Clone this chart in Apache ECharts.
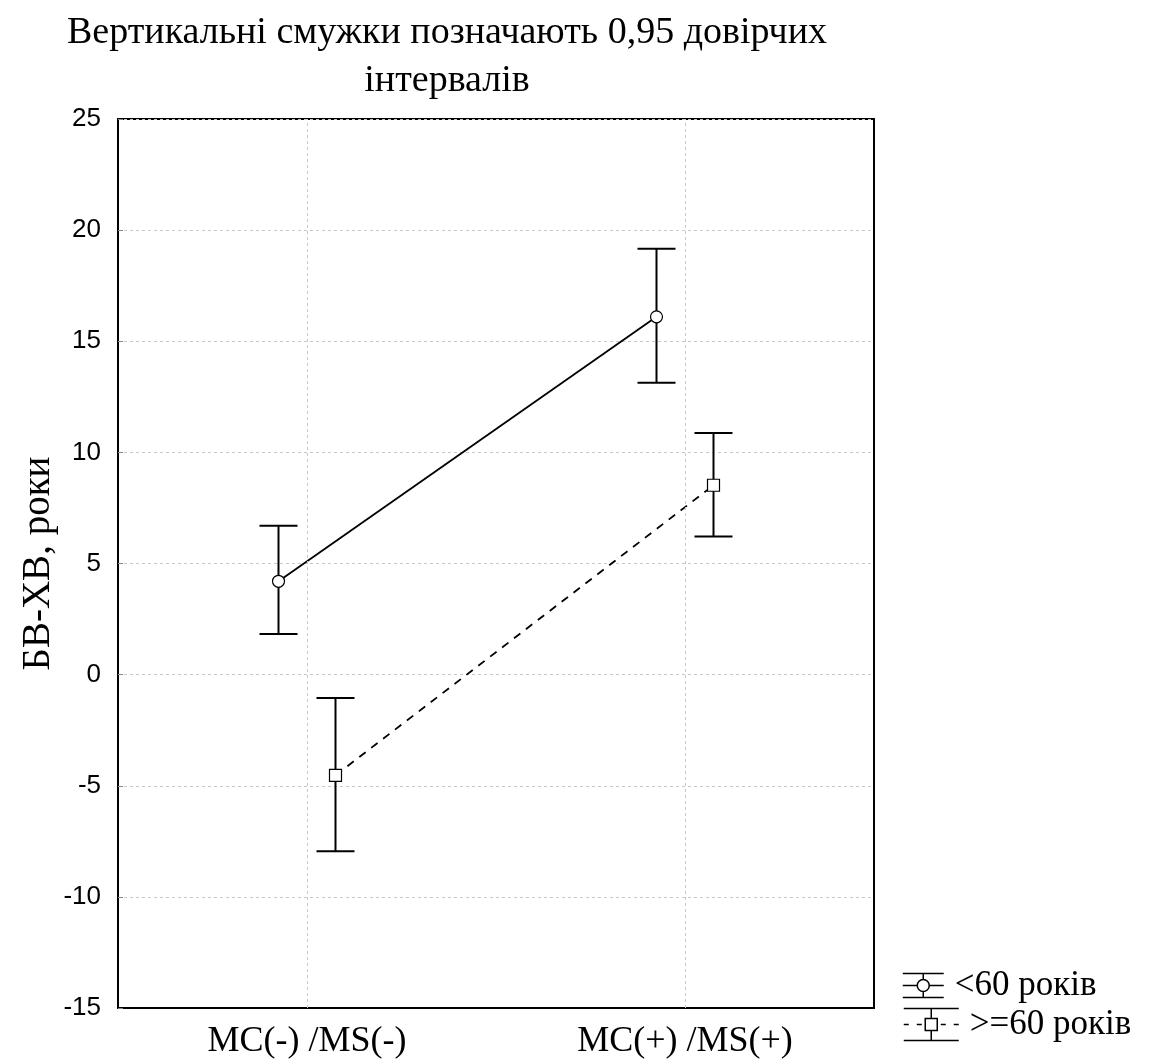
<!DOCTYPE html>
<html>
<head>
<meta charset="utf-8">
<script src="https://cdn.jsdelivr.net/npm/echarts@6/dist/echarts.min.js"></script>
<style>
html,body{margin:0;padding:0;background:#fff;}
#chart{width:1149px;height:1060px;}
</style>
</head>
<body>
<div id="chart"></div>
<script>
var groups = ['MC(-) /MS(-)', 'MC(+) /MS(+)'];
var yTicks = [-15, -10, -5, 0, 5, 10, 15, 20, 25];
var under60Name = '<60 років';
var under60Mean = [4.2, 16.1];
var under60Low = [1.83, 13.13];
var under60High = [6.7, 19.16];
var over60Name = '>=60 років';
var over60Mean = [-4.53, 8.52];
var over60Low = [-7.95, 6.21];
var over60High = [-1.05, 10.87];

var serif = '"Liberation Serif", "Times New Roman", serif';
var sans = '"Liberation Sans", Arial, sans-serif';

function toItems(mean, low, high) {
  return groups.map(function (g, i) { return [i, mean[i], low[i], high[i]]; });
}

function barRender(offset, shape) {
  return function (params, api) {
    var c = api.coord([api.value(0), api.value(1)]);
    var lo = api.coord([api.value(0), api.value(2)]);
    var hi = api.coord([api.value(0), api.value(3)]);
    var x = c[0] + offset;
    var st = { stroke: '#000', lineWidth: 2 };
    var children = [
      { type: 'line', shape: { x1: x, y1: hi[1], x2: x, y2: lo[1] }, style: st },
      { type: 'line', shape: { x1: x - 19, y1: hi[1], x2: x + 19, y2: hi[1] }, style: st },
      { type: 'line', shape: { x1: x - 19, y1: lo[1], x2: x + 19, y2: lo[1] }, style: st }
    ];
    if (shape === 'circle') {
      children.push({ type: 'circle', shape: { cx: x, cy: c[1], r: 6 }, style: { fill: '#fff', stroke: '#000', lineWidth: 1.2 } });
    } else {
      children.push({ type: 'rect', shape: { x: x - 6, y: c[1] - 6, width: 12, height: 12 }, style: { fill: '#fff', stroke: '#000', lineWidth: 1.2 } });
    }
    return { type: 'group', children: children };
  };
}

function lineRender(offset, dashed) {
  return function (params, api) {
    var p0 = api.coord([0, api.value(0)]);
    var p1 = api.coord([1, api.value(1)]);
    return {
      type: 'line',
      shape: { x1: p0[0] + offset, y1: p0[1], x2: p1[0] + offset, y2: p1[1] },
      style: { stroke: '#000', lineWidth: 1.8, lineDash: dashed ? [8, 7] : null }
    };
  };
}

var icon1 = 'path://M0 1L41 1M0 25L41 25M20.5 1L20.5 7M20.5 19L20.5 25M0 13L14.5 13M26.5 13L41 13M26.5 13A6 6 0 1 1 14.5 13A6 6 0 1 1 26.5 13Z';
var icon2 = 'path://M0 1L55 1M0 33L55 33M27.5 1L27.5 11M27.5 23L27.5 33M0 17L5 17M13 17L18 17M37 17L42 17M50 17L55 17M21.5 11L33.5 11L33.5 23L21.5 23Z';

var chart = echarts.init(document.getElementById('chart'), null, { renderer: 'canvas' });
var option = {
  backgroundColor: '#fff',
  animation: false,
  title: {
    text: 'Вертикальні смужки позначають 0,95 довірчих\nінтервалів',
    left: 442, top: 4, textAlign: 'center',
    textStyle: { fontFamily: serif, fontSize: 38, fontWeight: 'normal', color: '#000', lineHeight: 48 }
  },
  legend: [
    {
      data: [{ name: under60Name, icon: icon1 }],
      left: 897, top: 963, itemWidth: 41, itemHeight: 26, selectedMode: false,
      itemStyle: { color: '#fff', borderColor: '#000', borderWidth: 1.5 },
      textStyle: { fontFamily: serif, fontSize: 35, color: '#000', padding: [0, 0, 0, 6] }
    },
    {
      data: [{ name: over60Name, icon: icon2 }],
      left: 898, top: 1002, itemWidth: 55, itemHeight: 34, selectedMode: false,
      itemStyle: { color: '#fff', borderColor: '#000', borderWidth: 1.5 },
      textStyle: { fontFamily: serif, fontSize: 35, color: '#000', padding: [0, 0, 0, 6] }
    }
  ],
  grid: { left: 118, right: 275, top: 119, bottom: 52, show: true, borderColor: '#000', borderWidth: 2, backgroundColor: 'transparent' },
  xAxis: {
    type: 'category', data: groups, boundaryGap: true,
    axisLine: { onZero: false, lineStyle: { color: '#000', width: 2 } },
    axisTick: { inside: true, alignWithLabel: true, length: 5, lineStyle: { color: '#333' } },
    axisLabel: { fontFamily: serif, fontSize: 36, color: '#000', margin: 16 },
    splitLine: { show: false }
  },
  yAxis: {
    type: 'value', min: -15, max: 25, interval: 5,
    name: 'БВ-ХВ, роки', nameLocation: 'middle', nameGap: 60, nameMoveOverlap: false,
    nameTextStyle: { fontFamily: serif, fontSize: 39, color: '#000' },
    axisLine: { show: true, lineStyle: { color: '#000', width: 2 } },
    axisTick: { show: true, inside: true, length: 5, lineStyle: { color: '#888' } },
    axisLabel: { fontFamily: sans, fontSize: 26, color: '#000', margin: 17 },
    splitLine: { show: true, lineStyle: { color: '#c8c8c8', type: [3, 3], width: 1 } }
  },
  series: [
    {
      type: 'custom', name: 'vgrid', silent: true, z: 1,
      data: [], renderItem: function () { return null; },
      markLine: {
        silent: true, symbol: 'none', label: { show: false },
        lineStyle: { color: '#c8c8c8', type: [3, 3], width: 1 },
        data: groups.map(function (g) { return { xAxis: g }; })
      }
    },
    {
      type: 'custom', name: under60Name + ' line', silent: true, z: 2,
      data: [[under60Mean[0], under60Mean[1]]],
      encode: { y: [0, 1] },
      renderItem: lineRender(-28.5, false)
    },
    {
      type: 'custom', name: over60Name + ' line', silent: true, z: 2,
      data: [[over60Mean[0], over60Mean[1]]],
      encode: { y: [0, 1] },
      renderItem: lineRender(28.5, true)
    },
    {
      type: 'custom', name: under60Name, z: 3,
      data: toItems(under60Mean, under60Low, under60High),
      encode: { x: 0, y: [1, 2, 3] },
      itemStyle: { color: '#000' },
      renderItem: barRender(-28.5, 'circle')
    },
    {
      type: 'custom', name: over60Name, z: 3,
      data: toItems(over60Mean, over60Low, over60High),
      encode: { x: 0, y: [1, 2, 3] },
      itemStyle: { color: '#000' },
      renderItem: barRender(28.5, 'rect')
    }
  ]
};
chart.setOption(option);
</script>
</body>
</html>
